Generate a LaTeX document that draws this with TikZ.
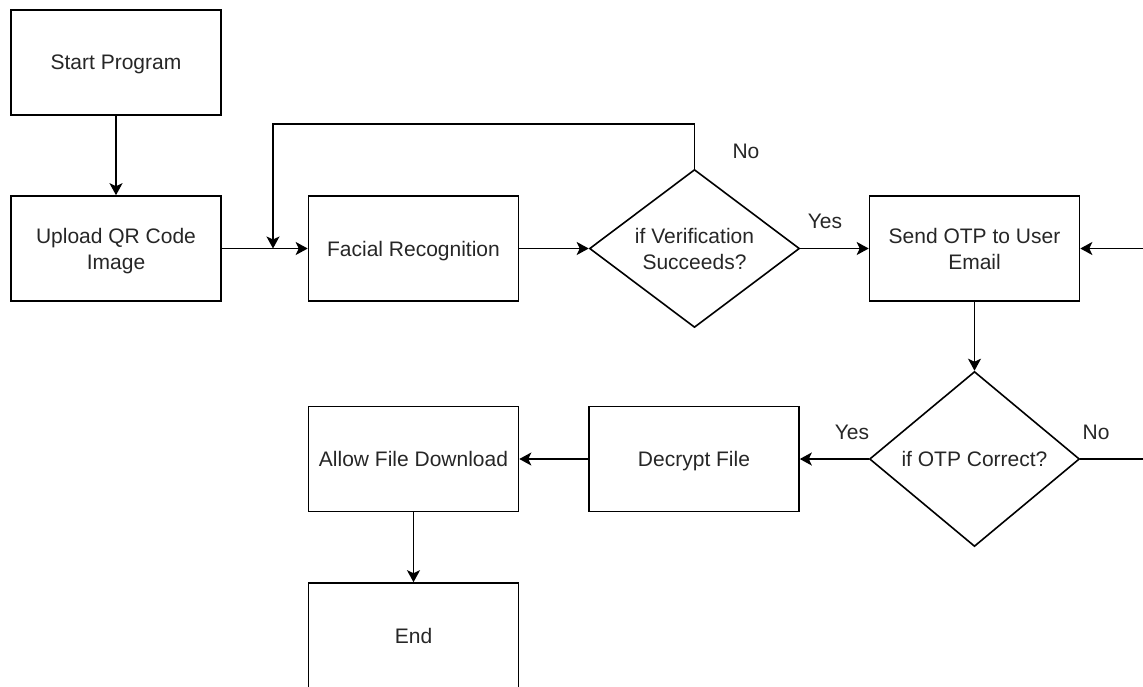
\documentclass[tikz,border=0pt]{standalone}
\usepackage{fontspec}
\setmainfont{Liberation Sans}
\usetikzlibrary{shapes.geometric,arrows.meta}
\begin{document}
\begin{tikzpicture}[x=1pt,y=-1pt,
  font=\fontsize{21}{26}\selectfont,
  box/.style={draw=black, line width=1.6pt, minimum width=210pt, minimum height=105pt, inner sep=0pt, align=center, text=black!85, text depth=0pt},
  dec/.style={draw=black, diamond, line width=1.6pt, minimum width=210pt, inner sep=0pt},
  txt/.style={align=center, text=black!85, inner sep=0pt, text depth=0pt},
  arr/.style={draw=black, line width=1.6pt, -{Stealth[length=12pt,width=13pt,inset=3pt]}},
  lbl/.style={text=black!85, inner sep=0pt, anchor=base}]
\useasboundingbox (0,0) rectangle (1143,686);
\clip (0,0) rectangle (1143,686);
% nodes
\node[box] (start) at (116,62.5) {Start Program};
\node[box] (upload) at (116,248.5) {Upload QR Code\\Image};
\node[box] (facial) at (413.5,248.5) {Facial Recognition};
\node[dec, minimum height=158pt] (d1) at (694.5,248.5) {};
\node[txt] (d1t) at (d1.center) {if Verification\\Succeeds?};
\node[box] (send) at (974.5,248.5) {Send OTP to User\\Email};
\node[dec, minimum height=175pt] (d2) at (974.5,459) {};
\node[txt] (d2t) at (d2.center) {if OTP Correct?};
\node[box] (decrypt) at (694,459) {Decrypt File};
\node[box] (allow) at (413.5,459) {Allow File Download};
\node[box] (end) at (413.5,635.5) {End};
% labels
\node[lbl] (no1) at (746,158) {No};
\node[lbl] (yes1) at (825,228) {Yes};
\node[lbl] (yes2) at (852,439) {Yes};
\node[lbl] (no2) at (1096,439) {No};
% helper coordinates
\coordinate (join) at (273,248.5);
\coordinate (rr) at (1175,459);
% connectors
\draw[arr] (start.south) -- (upload.north);
\draw[arr] (upload.east) -- (facial.west);
\draw[arr] (d1.north) -- ++(0,-45) -| (join);
\draw[arr] (facial.east) -- (d1.west);
\draw[arr] (d1.east) -- (send.west);
\draw[arr] (send.south) -- (d2.north);
\draw[arr] (d2.west) -- (decrypt.east);
\draw[arr] (decrypt.west) -- (allow.east);
\draw[arr] (allow.south) -- (end.north);
\draw[arr] (d2.east) -- (rr) |- (send.east);
\end{tikzpicture}
\end{document}
